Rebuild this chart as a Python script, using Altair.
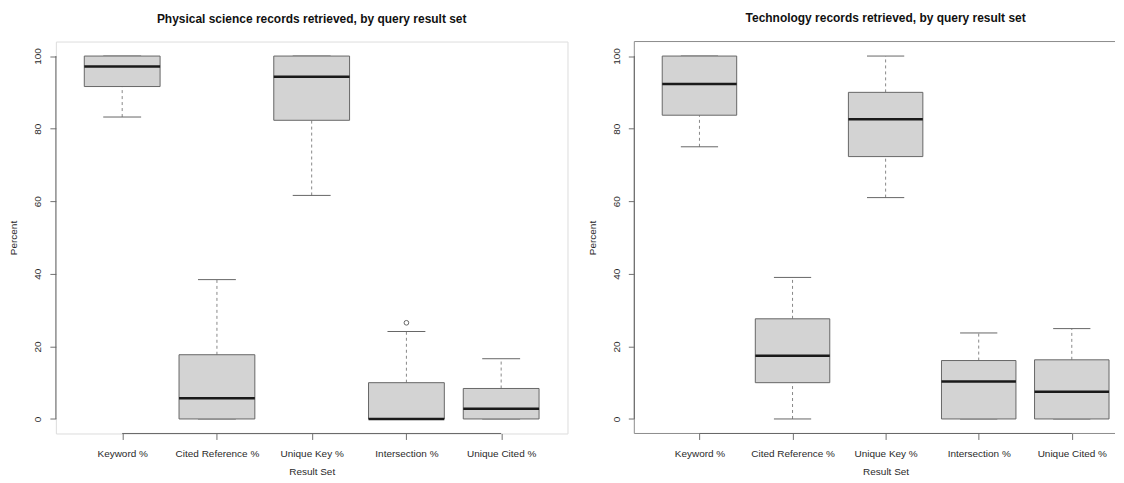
import json
import altair as alt
import pandas as pd

# ---------------- data ----------------
categories = ["Keyword %", "Cited Reference %", "Unique Key %", "Intersection %", "Unique Cited %"]
cat_index = [1, 2, 3, 4, 5]

phys_lower = [83.2, 0.0, 61.6, 0.0, 0.0]
phys_q1 = [91.6, 0.0, 82.3, 0.0, 0.0]
phys_median = [97.1, 5.7, 94.3, 0.0, 2.8]
phys_q3 = [100.0, 17.7, 100.0, 10.0, 8.4]
phys_upper = [100.0, 38.4, 100.0, 24.1, 16.6]
phys_out_idx = [4]
phys_out_val = [26.5]

tech_lower = [75.0, 0.0, 61.0, 0.0, 0.0]
tech_q1 = [83.7, 10.0, 72.3, 0.0, 0.0]
tech_median = [92.3, 17.4, 82.6, 10.3, 7.5]
tech_q3 = [100.0, 27.6, 90.0, 16.1, 16.3]
tech_upper = [100.0, 39.0, 100.0, 23.7, 24.9]
tech_out_idx = []
tech_out_val = []

y_ticks = [0, 20, 40, 60, 80, 100]

# ---------------- style ----------------
FONT = "Liberation Sans"
BOX_FILL = "#d3d3d3"
BOX_STROKE = "#666666"
WHISKER = "#888888"
CAP = "#666666"
MEDIAN = "#1a1a1a"
TEXT = "#2a2a2a"
FRAME = "#8c8c8c"
AXISLINE = "#666666"
HEIGHT = 393

label_expr = json.dumps(categories) + "[datum.value - 1]"


def panel(title, title_dx, lower, q1, med, q3, upper, out_idx, out_val,
          width, xmax, open_right, xtitle_x):
    df = pd.DataFrame({
        "cat": categories, "idx": cat_index, "lower": lower, "q1": q1,
        "median": med, "q3": q3, "upper": upper,
    })
    xs = alt.Scale(domain=[0.3, xmax], nice=False, zero=False)
    ys = alt.Scale(domain=[-4, 104], nice=False, zero=False)
    xaxis = alt.Axis(
        values=cat_index, labelExpr=label_expr, title="Result Set",
        domain=False, grid=False, ticks=True, tickSize=6, tickColor="#707070",
        labelAngle=0, labelBaseline="middle", labelAlign="center", labelPadding=14,
        labelFont=FONT, labelFontSize=10, labelColor=TEXT, labelFlush=False,
        labelOverlap=False, labelBound=False,
        titleFont=FONT, titleFontSize=10, titleFontWeight="normal", titleColor=TEXT,
        titleX=xtitle_x, titleY=38, titleBaseline="middle", titleAlign="center",
    )
    yaxis = alt.Axis(
        values=y_ticks, title="Percent",
        domain=False, grid=False, ticks=True, tickSize=6, tickColor="#707070",
        labelAngle=270, labelBaseline="middle", labelAlign="center", labelPadding=12,
        labelFont=FONT, labelFontSize=10, labelColor=TEXT, labelFlush=False,
        labelOverlap=False, labelBound=False,
        titleFont=FONT, titleFontSize=10, titleFontWeight="normal", titleColor=TEXT,
        titleAngle=270, titleX=-42, titleY=HEIGHT / 2, titleBaseline="middle",
        titleAlign="center",
    )
    base = alt.Chart(df).transform_calculate(
        xl="datum.idx - 0.4", xr="datum.idx + 0.4",
        cl="datum.idx - 0.2", cr="datum.idx + 0.2",
    )
    whisk_hi = base.mark_rule(color=WHISKER, strokeWidth=1, strokeDash=[3, 3]).encode(
        x=alt.X("idx:Q", scale=xs, axis=xaxis),
        y=alt.Y("q3:Q", scale=ys, axis=yaxis), y2="upper:Q",
    )
    whisk_lo = base.mark_rule(color=WHISKER, strokeWidth=1, strokeDash=[3, 3]).encode(
        x=alt.X("idx:Q", scale=xs, axis=xaxis),
        y=alt.Y("lower:Q", scale=ys, axis=yaxis), y2="q1:Q",
    )
    cap_hi = base.mark_rule(color=CAP, strokeWidth=1).encode(
        x=alt.X("cl:Q", scale=xs, axis=xaxis), x2="cr:Q",
        y=alt.Y("upper:Q", scale=ys, axis=yaxis),
    )
    cap_lo = base.mark_rule(color=CAP, strokeWidth=1).encode(
        x=alt.X("cl:Q", scale=xs, axis=xaxis), x2="cr:Q",
        y=alt.Y("lower:Q", scale=ys, axis=yaxis),
    )
    box = base.mark_rect(fill=BOX_FILL, stroke=BOX_STROKE, strokeWidth=1).encode(
        x=alt.X("xl:Q", scale=xs, axis=xaxis), x2="xr:Q",
        y=alt.Y("q1:Q", scale=ys, axis=yaxis), y2="q3:Q",
    )
    median = base.mark_rule(color=MEDIAN, strokeWidth=2.5).encode(
        x=alt.X("xl:Q", scale=xs, axis=xaxis), x2="xr:Q",
        y=alt.Y("median:Q", scale=ys, axis=yaxis),
    )
    layers = []
    one = alt.Data(values=[{}])
    fr = alt.Chart(one)
    if open_right:
        layers += [
            fr.mark_rule(color=FRAME, strokeWidth=1).encode(
                x=alt.value(0), x2=alt.value(width), y=alt.value(0)),
            fr.mark_rule(color=FRAME, strokeWidth=1).encode(
                x=alt.value(0), x2=alt.value(width), y=alt.value(HEIGHT)),
            fr.mark_rule(color=FRAME, strokeWidth=1).encode(
                x=alt.value(0), y=alt.value(0), y2=alt.value(HEIGHT)),
        ]
    # R-style axis lines (first to last tick) over the frame
    layers += [
        fr.mark_rule(color=AXISLINE, strokeWidth=1).encode(
            x=alt.X(datum=cat_index[0], scale=xs, axis=xaxis),
            x2=alt.datum(cat_index[-1]), y=alt.value(HEIGHT)),
        fr.mark_rule(color=AXISLINE, strokeWidth=1).encode(
            y=alt.Y(datum=y_ticks[0], scale=ys, axis=yaxis),
            y2=alt.datum(y_ticks[-1]), x=alt.value(0)),
    ]
    layers += [whisk_hi, whisk_lo, cap_hi, cap_lo, box, median]
    if out_val:
        odf = pd.DataFrame({"idx": out_idx, "value": out_val})
        pts = alt.Chart(odf).mark_point(
            shape="circle", filled=False, size=22, color="#666666", strokeWidth=1, opacity=1
        ).encode(
            x=alt.X("idx:Q", scale=xs, axis=xaxis),
            y=alt.Y("value:Q", scale=ys, axis=yaxis),
        )
        layers.append(pts)
    ch = alt.layer(*layers).properties(
        width=width, height=HEIGHT,
        title=alt.TitleParams(
            title, font=FONT, fontSize=12, fontWeight="bold", color="#111111",
            anchor="middle", frame="group", baseline="bottom", offset=4,
            dx=title_dx,
        ),
    )
    if open_right:
        ch = ch.properties(view=alt.ViewBackground(stroke="transparent"))
    return ch


L_W = 513
left = panel("Physical science records retrieved, by query result set", 0,
             phys_lower, phys_q1, phys_median, phys_q3, phys_upper,
             phys_out_idx, phys_out_val, L_W, 5.7, False, L_W / 2)

# right panel keeps the px-per-unit of a 0.3..5.7 range over 504 px,
# but is cut at the window edge like the reference
R_PPU = 504 / 5.4
R_W = 482
R_XMAX = 0.3 + R_W / R_PPU
R_MID = 2.7 * R_PPU
right = panel("Technology records retrieved, by query result set", R_MID - R_W / 2,
              tech_lower, tech_q1, tech_median, tech_q3, tech_upper,
              tech_out_idx, tech_out_val, R_W, R_XMAX, True, R_MID)

chart = alt.hconcat(left, right, spacing=18).properties(
    padding={"top": 3, "left": 0, "right": 0, "bottom": 0}
).configure_view(
    stroke=FRAME, strokeWidth=1
).configure(background="white")

chart.save("out.html", embed_options={"renderer": "svg", "actions": False})
